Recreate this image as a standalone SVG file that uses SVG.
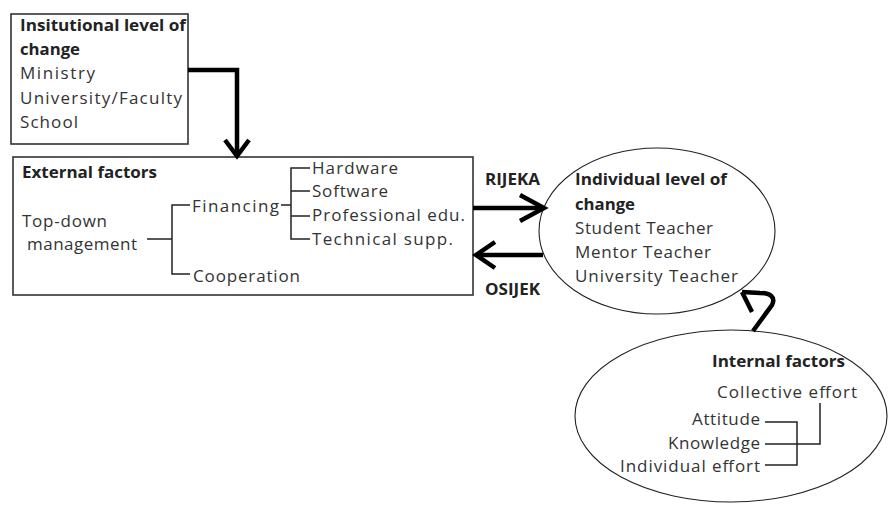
<svg xmlns="http://www.w3.org/2000/svg" width="890" height="505" viewBox="0 0 890 505">
  <style>
    text { font-family: "Open Sans", "Liberation Sans", Arial, sans-serif; font-size: 17px; fill: #333; }
    .b { font-weight: bold; font-size: 16px; fill: #222; }
    .box { fill: #fff; stroke: #333; stroke-width: 1.6; }
    .oval { fill: #fff; stroke: #222; stroke-width: 1.1; }
    .tree { fill: none; stroke: #222; stroke-width: 1.5; }
    .conn { fill: none; stroke: #000; stroke-width: 4.5; stroke-linecap: butt; stroke-linejoin: miter; }
  </style>
  <rect width="890" height="505" fill="#fff"/>

  <g id="institutional">
    <rect class="box" x="11" y="14" width="177" height="130"/>
    <text class="b" x="20" y="31" textLength="166" lengthAdjust="spacingAndGlyphs">Insitutional level of</text>
    <text class="b" x="20" y="55" textLength="60" lengthAdjust="spacingAndGlyphs">change</text>
    <text x="20" y="79" textLength="75">Ministry</text>
    <text x="20" y="104" textLength="162">University/Faculty</text>
    <text x="20" y="128" textLength="58">School</text>
  </g>

  <g id="external">
    <rect class="box" x="13" y="157" width="460" height="138"/>
    <text class="b" x="22" y="178" textLength="135" lengthAdjust="spacingAndGlyphs">External factors</text>
    <text x="22" y="227" textLength="85">Top-down</text>
    <text x="27" y="250" textLength="110">management</text>
    <text x="192" y="212" textLength="87">Financing</text>
    <text x="193" y="282" textLength="107">Cooperation</text>
    <text x="312" y="174" textLength="86">Hardware</text>
    <text x="312" y="197" textLength="76">Software</text>
    <text x="312" y="221" textLength="153">Professional edu.</text>
    <text x="312" y="245" textLength="141">Technical supp.</text>
    <path class="tree" d="M147,239 H172 M190,205 H172 V274 H190 M281,205 H291 M310,168 H291 V239 H310 M291,191 H310 M291,216 H310"/>
  </g>

  <g id="individual">
    <ellipse class="oval" cx="657" cy="231" rx="118" ry="83"/>
    <text class="b" x="575" y="185" textLength="152" lengthAdjust="spacingAndGlyphs">Individual level of</text>
    <text class="b" x="575" y="210" textLength="60" lengthAdjust="spacingAndGlyphs">change</text>
    <text x="575" y="234" textLength="138">Student Teacher</text>
    <text x="575" y="258" textLength="136">Mentor Teacher</text>
    <text x="575" y="282" textLength="163">University Teacher</text>
  </g>

  <g id="internal">
    <ellipse class="oval" cx="731" cy="416" rx="156" ry="86"/>
    <text class="b" x="712" y="367" textLength="133" lengthAdjust="spacingAndGlyphs">Internal factors</text>
    <text x="717" y="398" textLength="140">Collective effort</text>
    <text x="692" y="425" textLength="68">Attitude</text>
    <text x="668" y="449" textLength="92">Knowledge</text>
    <text x="620" y="472" textLength="140">Individual effort</text>
    <path class="tree" d="M765,422 H797 V465 H765 M765,444 H820 V403"/>
  </g>

  <g id="connectors">
    <path class="conn" d="M188,70 H237 V154"/>
    <path class="conn" d="M225,140 L237,156 L249,140"/>
    <path class="conn" d="M473,208 H543"/>
    <path class="conn" d="M520,195 L544,208 L520,221"/>
    <path class="conn" d="M543,255 H476"/>
    <path class="conn" d="M495,242 L476,255 L495,268"/>
    <path class="conn" d="M753,331 L772,305 C776,297 770,293 760,293 L742,292"/>
    <path class="conn" d="M742,292 L752,312"/>
    <text class="b" x="485" y="185" textLength="55" lengthAdjust="spacingAndGlyphs">RIJEKA</text>
    <text class="b" x="485" y="295" textLength="55" lengthAdjust="spacingAndGlyphs">OSIJEK</text>
  </g>
</svg>
